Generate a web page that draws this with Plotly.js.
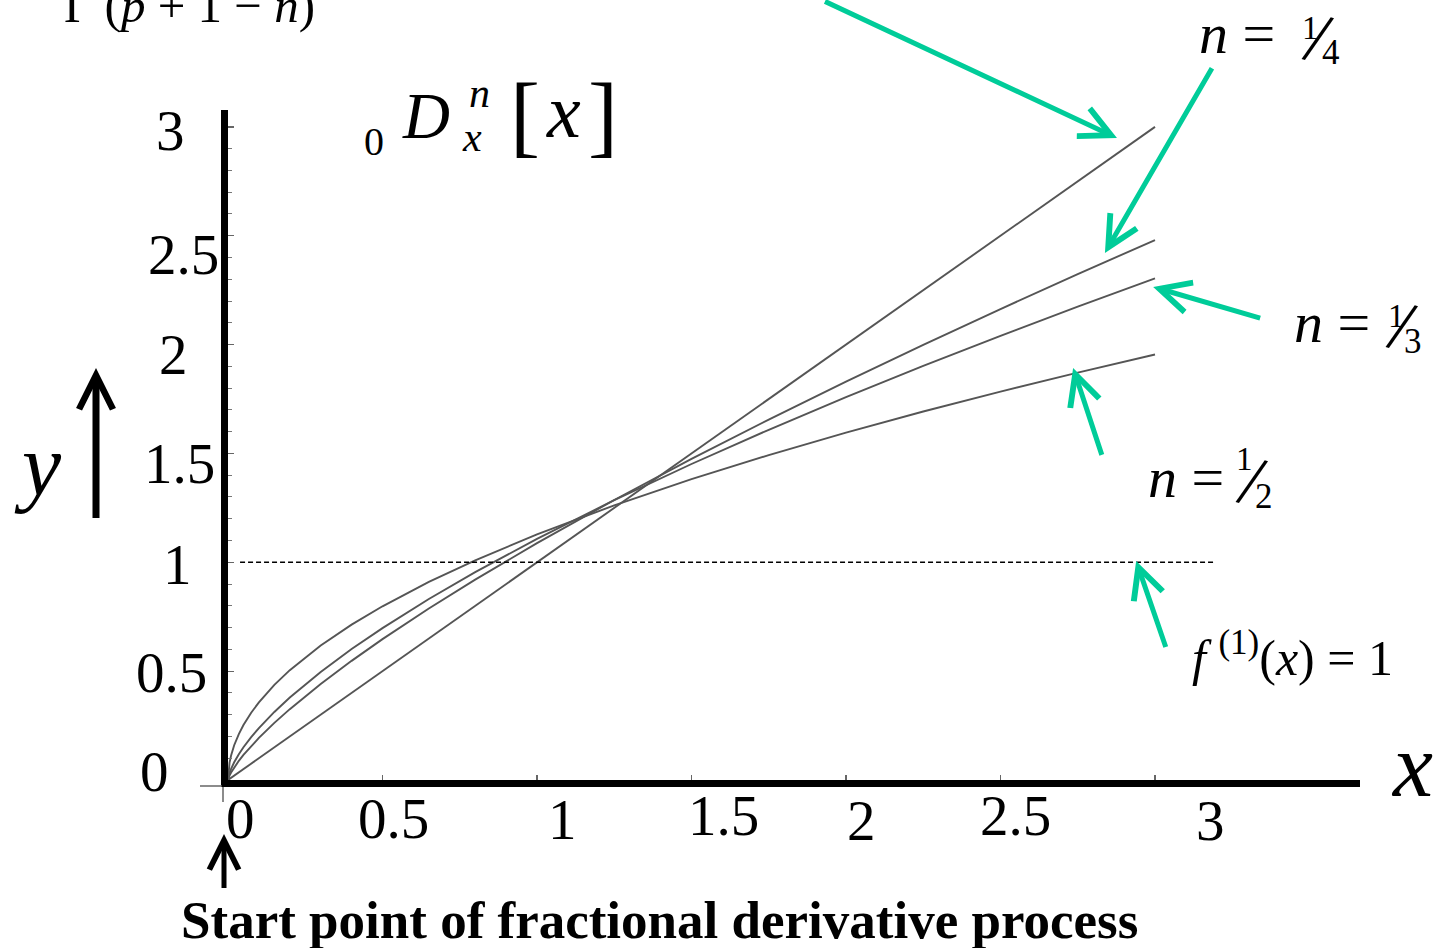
<!DOCTYPE html>
<html>
<head>
<meta charset="utf-8">
<script src="https://cdn.plot.ly/plotly-3.0.1.min.js"></script>
<style>
  html, body { margin: 0; padding: 0; background: #fff; }
  #chart { width: 1439px; height: 948px; }
</style>
</head>
<body>
<div id="chart"></div>
<script>
// Fractional derivatives 0D_x^n [x] for several orders n
const xs = [0, 0.002, 0.005, 0.01, 0.02, 0.035, 0.05, 0.075, 0.1, 0.15, 0.2, 0.3, 0.4, 0.5,
            0.65, 0.8, 1, 1.25, 1.5, 1.75, 2, 2.25, 2.5, 2.75, 3];
const yQuarter = [0, 0.0103, 0.0205, 0.0344, 0.0579, 0.0880, 0.1151, 0.1559, 0.1935, 0.2623, 0.3254,
                  0.4411, 0.5473, 0.6470, 0.7877, 0.9204, 1.0881, 1.2863, 1.4748, 1.6555, 1.8299,
                  1.9989, 2.1633, 2.3236, 2.4803];
const yThird = [0, 0.0176, 0.0324, 0.0514, 0.0816, 0.1185, 0.1503, 0.1970, 0.2386, 0.3127, 0.3788,
                0.4964, 0.6014, 0.6978, 0.8312, 0.9546, 1.1077, 1.2854, 1.4516, 1.6086, 1.7584,
                1.9021, 2.0405, 2.1744, 2.3042];
const yHalf = [0, 0.0505, 0.0798, 0.1128, 0.1596, 0.2111, 0.2523, 0.3090, 0.3568, 0.4370, 0.5046,
               0.6180, 0.7136, 0.7979, 0.9097, 1.0093, 1.1284, 1.2616, 1.3820, 1.4927, 1.5958,
               1.6926, 1.7841, 1.8712, 1.9544];
// n = 0: the function itself
const xZero = [0, 3];
const yZero = [0, 3];
// first derivative f'(x) = 1
const xConst = [0.039, 3.194];
const yConst = [1, 1];

const tickValues = [0, 0.5, 1, 1.5, 2, 2.5, 3];
const tickText = ['0', '0.5', '1', '1.5', '2', '2.5', '3'];

// ---- page geometry ----
const W = 1439, H = 948;
const M = { l: 228, r: 79, t: 110, b: 168 };
const PW = W - M.l - M.r, PH = H - M.t - M.b;
const px = v => (v - M.l) / PW;           // page pixel -> paper x
const py = v => (H - M.b - v) / PH;       // page pixel -> paper y
const SERIF = 'Liberation Serif, Times New Roman, serif';
const GREEN = '#00cc99';
const CURVE = '#555555';

// tick label placement (page pixels / pixel shifts)
const xLabelShift = [12, 10.5, 25, 31.5, 15, 14.5, 55];
const xLabelY = [818, 818, 819, 815, 820, 815, 820];
const yLabelX = [154, 171, 177, 179, 173, 183, 170];
const yLabelShift = [9, -1, -2, -10, -10, -19, -4];

function label(text, cx, cy, size, extra) {
  return Object.assign({
    xref: 'paper', yref: 'paper', x: px(cx), y: py(cy),
    xanchor: 'center', yanchor: 'middle', showarrow: false, text: text,
    font: { family: SERIF, size: size, color: '#000' }
  }, extra || {});
}

function arrow(x, y, ax, ay, color, width, size, refs) {
  return Object.assign({
    xref: 'x', yref: 'y', x: x, y: y, ax: ax, ay: ay, text: ' ',
    font: { family: SERIF, size: 10, color: color },
    showarrow: true, arrowhead: 5, arrowsize: size, arrowwidth: width,
    arrowcolor: color, standoff: 0
  }, refs || {});
}

const curve = (x, y) => ({
  x: x, y: y, type: 'scatter', mode: 'lines', hoverinfo: 'skip',
  line: { color: CURVE, width: 1.9 }
});

const traces = [
  curve(xZero, yZero),
  curve(xs, yQuarter),
  curve(xs, yThird),
  curve(xs, yHalf),
  { x: xConst, y: yConst, type: 'scatter', mode: 'lines', hoverinfo: 'skip',
    line: { color: '#000', width: 1.5, dash: '5px,3px' } }
];

const annotations = [];

// axis numbers
tickValues.forEach((v, i) => {
  annotations.push({
    xref: 'x', yref: 'paper', x: v, y: py(xLabelY[i]), xshift: xLabelShift[i],
    xanchor: 'center', yanchor: 'middle', showarrow: false, text: tickText[i],
    font: { family: SERIF, size: 57, color: '#000' }
  });
  annotations.push({
    xref: 'paper', yref: 'y', x: px(yLabelX[i]), y: v, yshift: yLabelShift[i],
    xanchor: 'center', yanchor: 'middle', showarrow: false, text: tickText[i],
    font: { family: SERIF, size: 57, color: '#000' }
  });
});

// axis letters
annotations.push(label('<i>y</i>', 38, 466, 88));
annotations.push(label('<i>x</i>', 1412, 765, 90));

// operator  0 D x n [ x ]
annotations.push(label('0', 374, 141, 40));
annotations.push(label('<i>D</i>', 426, 116, 65));
annotations.push(label('<i>n</i>', 479, 93, 42));
annotations.push(label('<i>x</i>', 472, 137, 42));
annotations.push(label('[', 525, 116, 90));
annotations.push(label('<i>x</i>', 563, 111, 76));
annotations.push(label(']', 603, 116, 90));

// denominator of the fractional derivative formula
annotations.push(label('Γ (<i>p</i> + 1 − <i>n</i>)', 189, 6, 49));

// order labels
function orderLabel(nx, ny, num, den, numXY, slashXY, denXY) {
  annotations.push(label('<i>n</i> =', nx, ny, 58));
  annotations.push(label(num, numXY[0], numXY[1], 33));
  annotations.push(label('/', slashXY[0], slashXY[1], 72, { textangle: 16 }));
  annotations.push(label(den, denXY[0], denXY[1], 35));
}
orderLabel(1237, 33, '1', '4', [1310, 28], [1318, 38], [1331, 53]);
orderLabel(1332, 322, '1', '3', [1396, 316], [1402, 326], [1413.5, 341]);
orderLabel(1186, 477, '1', '2', [1244, 459], [1252, 481], [1263.5, 496]);

annotations.push(label('<i>f</i> <sup>(1)</sup>(<i>x</i>) = 1', 1190, 688, 50,
  { xanchor: 'left', yanchor: 'bottom' }));

annotations.push(label('<b>Start point of fractional derivative process</b>', 659, 920, 53));

// pointers to the curves
annotations.push(arrow(2.877, 2.949, -295, -143, GREEN, 5, 1.2));
annotations.push(arrow(2.838, 2.421, 110, -190, GREEN, 5, 1.2));
annotations.push(arrow(2.994, 2.265, 110, 32, GREEN, 5, 1.2));
annotations.push(arrow(2.735, 1.893, 31, 94, GREEN, 5, 1.2));
annotations.push(arrow(2.939, 1.006, 32, 93, GREEN, 5, 1.2));

// y direction arrow and the start point arrow
annotations.push(arrow(px(96), py(368), 0, 157, '#000', 7, 0.95, { xref: 'paper', yref: 'paper' }));
annotations.push(arrow(px(224), py(834), 0, 61, '#000', 5, 1.15, { xref: 'paper', yref: 'paper' }));

// thin axis stubs crossing at the origin
const shapes = [
  { type: 'line', xref: 'paper', yref: 'paper', x0: px(200), x1: px(222), y0: py(786), y1: py(786),
    line: { color: '#666', width: 1.5 } },
  { type: 'line', xref: 'paper', yref: 'paper', x0: px(223), x1: px(223), y0: py(787), y1: py(802),
    line: { color: '#666', width: 1.5 } }
];

const layout = {
  width: W, height: H,
  margin: M,
  paper_bgcolor: '#fff', plot_bgcolor: '#fff',
  showlegend: false,
  xaxis: {
    range: [0, PW / 309], showgrid: false, zeroline: false,
    showline: true, linecolor: '#000', linewidth: 7,
    tickmode: 'array', tickvals: [0.5, 1, 1.5, 2, 2.5, 3],
    ticks: 'inside', ticklen: 5, tickwidth: 1.2, tickcolor: '#666',
    showticklabels: false, fixedrange: true
  },
  yaxis: {
    range: [0, PH / 217.7], showgrid: false, zeroline: false,
    showline: true, linecolor: '#000', linewidth: 7,
    tickmode: 'linear', tick0: 0, dtick: 0.5,
    ticks: 'inside', ticklen: 6, tickwidth: 1.2, tickcolor: '#666',
    minor: { tickmode: 'linear', tick0: 0, dtick: 0.1, ticks: 'inside', ticklen: 4,
             tickwidth: 1, tickcolor: '#777' },
    showticklabels: false, fixedrange: true
  },
  annotations: annotations,
  shapes: shapes
};

Plotly.newPlot('chart', traces, layout, { displayModeBar: false, staticPlot: true });
</script>
</body>
</html>
